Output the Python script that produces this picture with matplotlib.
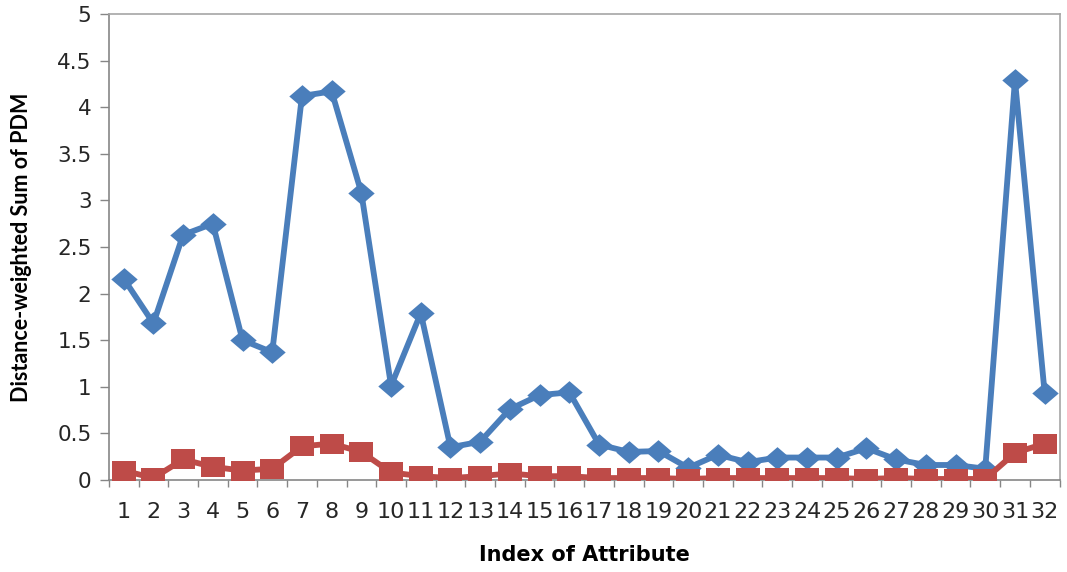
import numpy as np
import matplotlib.pyplot as plt
from matplotlib.ticker import FixedLocator, NullFormatter

plt.rcParams['font.family'] = ['DejaVu Sans']

# attribute index and the two distance-weighted sums
attr_idx = list(range(1, 33))
pdm_blue = [2.16, 1.68, 2.63, 2.75, 1.50, 1.37, 4.12, 4.17, 3.08, 1.01,
            1.79, 0.35, 0.41, 0.76, 0.91, 0.94, 0.38, 0.30, 0.31, 0.13,
            0.27, 0.19, 0.24, 0.24, 0.24, 0.34, 0.22, 0.16, 0.16, 0.12,
            4.29, 0.93]
pdm_red = [0.10, 0.02, 0.22, 0.14, 0.10, 0.12, 0.36, 0.39, 0.30, 0.08,
           0.04, 0.02, 0.04, 0.07, 0.04, 0.04, 0.02, 0.02, 0.02, 0.01,
           0.02, 0.02, 0.02, 0.02, 0.02, 0.01, 0.02, 0.01, 0.01, 0.01,
           0.29, 0.39]
y_ticks = [0, 0.5, 1, 1.5, 2, 2.5, 3, 3.5, 4, 4.5, 5]
y_ticklabels = ['0', '0.5', '1', '1.5', '2', '2.5', '3', '3.5', '4', '4.5', '5']

blue = '#4a7ebb'
red = '#be4b48'
axis_gray = '#868686'
text_col = '#262626'

fig = plt.figure(figsize=(10.67, 5.72), dpi=100)
ax = fig.add_axes([0.102, 0.161, 0.891, 0.8145])

# wide diamond, slightly wide square
diamond = [(-1, 0), (0, 0.86), (1, 0), (0, -0.86), (-1, 0)]
square = [(-1, -0.87), (1, -0.87), (1, 0.87), (-1, 0.87), (-1, -0.87)]

ax.plot(attr_idx, pdm_blue, color=blue, lw=4.2, marker=diamond,
        markersize=19, markeredgewidth=0, zorder=3)
ax.plot(attr_idx, pdm_red, color=red, lw=4.2, marker=square,
        markersize=17, markeredgewidth=0, zorder=3)

ax.set_xlim(0.5, 32.5)
ax.set_ylim(0, 5)

# category boundaries carry the tick marks, centres carry the labels
ax.xaxis.set_major_locator(FixedLocator(np.arange(0.5, 33, 1)))
ax.xaxis.set_major_formatter(NullFormatter())
ax.xaxis.set_minor_locator(FixedLocator(attr_idx))
ax.set_xticklabels([str(i) for i in attr_idx], minor=True)
ax.tick_params(axis='x', which='major', direction='out', length=5,
               width=1, color=axis_gray)
ax.tick_params(axis='x', which='minor', length=0, pad=16, labelsize=16,
               labelcolor=text_col)

ax.set_yticks(y_ticks)
ax.set_yticklabels(y_ticklabels)
ax.tick_params(axis='y', direction='out', length=6.5, width=1,
               color=axis_gray, labelsize=15.5, labelcolor=text_col, pad=6)

for side in ['left', 'bottom']:
    ax.spines[side].set_color(axis_gray)
    ax.spines[side].set_linewidth(1.2)
for side in ['top', 'right']:
    ax.spines[side].set_color('#a6a6a6')
    ax.spines[side].set_linewidth(1.2)

ax.set_xlabel('Index of Attribute', fontsize=15, fontweight='bold',
              color='black', va='center')
ax.xaxis.set_label_coords(0.5, -0.161)
ax.set_ylabel('Distance-weighted Sum of PDM', fontsize=15.5, fontweight='bold',
              family=['Lato', 'DejaVu Sans'], color='black', va='center')
ax.yaxis.set_label_coords(-0.092, 0.5)

plt.savefig('out.png', dpi=100, facecolor='white')
